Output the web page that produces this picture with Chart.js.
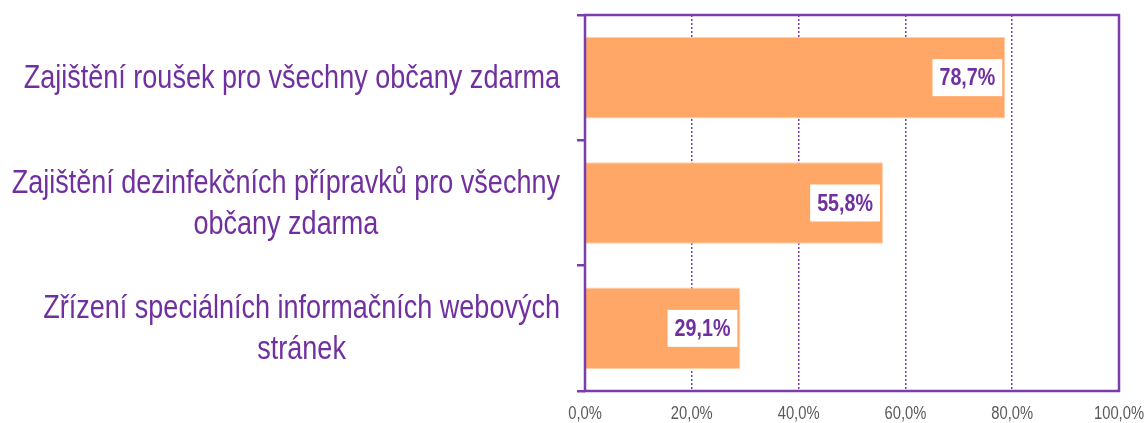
<!DOCTYPE html>
<html>
<head>
<meta charset="utf-8">
<script src="https://cdn.jsdelivr.net/npm/chart.js@4.4.1/dist/chart.umd.min.js"></script>
<style>
html, body { margin: 0; padding: 0; background: #fff; }
#wrap { width: 1148px; height: 423px; }
</style>
</head>
<body>
<div id="wrap"><canvas id="myChart"></canvas></div>
<script>
// categories (each one split into its display lines)
const categories = [
    ['Zajištění roušek pro všechny občany zdarma'],
    ['Zajištění dezinfekčních přípravků pro všechny', 'občany zdarma'],
    ['Zřízení speciálních informačních webových', 'stránek']
];
const values = [78.7, 55.8, 29.1];
const tickValues = [0, 20, 40, 60, 80, 100];
const tickLabels = ['0,0%', '20,0%', '40,0%', '60,0%', '80,0%', '100,0%'];

const purple = '#7030A0';
const lineColor = '#7B3DAD';
const family = '"Liberation Sans", Arial, sans-serif';
const squeeze = 0.82; // no narrow font installed, so squash the normal one

function fmt(v) {
    return v.toFixed(1).replace('.', ',') + '%';
}

function narrowText(ctx, txt, x, y, sx) {
    ctx.save();
    ctx.translate(x, y);
    ctx.scale(sx || squeeze, 1);
    ctx.fillText(txt, 0, 0);
    ctx.restore();
}

// purple frame round the plot area
const framePlugin = {
    id: 'frame',
    afterDatasetsDraw(chart) {
        const a = chart.chartArea;
        const ctx = chart.ctx;
        ctx.save();
        ctx.strokeStyle = lineColor;
        ctx.lineWidth = 2.5;
        ctx.strokeRect(a.left, a.top, a.right - a.left, a.bottom - a.top);
        ctx.restore();
    }
};

// white boxes with the values, at the end of each bar
const valueLabels = {
    id: 'valueLabels',
    afterDraw(chart) {
        const ctx = chart.ctx;
        const meta = chart.getDatasetMeta(0);
        ctx.save();
        ctx.font = 'bold 24px ' + family;
        ctx.textAlign = 'center';
        ctx.textBaseline = 'middle';
        meta.data.forEach(function(bar, i) {
            const txt = fmt(values[i]);
            const w = ctx.measureText(txt).width * squeeze + 14;
            const h = 37;
            const right = bar.x - 3;
            ctx.fillStyle = '#ffffff';
            ctx.fillRect(right - w, bar.y - h / 2, w, h);
            ctx.fillStyle = purple;
            narrowText(ctx, txt, right - w / 2, bar.y + 1);
        });
        ctx.restore();
    }
};

// x tick labels and category names
const axisText = {
    id: 'axisText',
    afterDraw(chart) {
        const ctx = chart.ctx;
        const xScale = chart.scales.x;
        const yScale = chart.scales.y;
        ctx.save();
        ctx.textAlign = 'center';
        ctx.textBaseline = 'middle';

        ctx.font = '18px ' + family;
        ctx.fillStyle = '#595959';
        tickValues.forEach(function(v, i) {
            narrowText(ctx, tickLabels[i], xScale.getPixelForValue(v), chart.chartArea.bottom + 23);
        });

        const rightEdge = chart.chartArea.left - 25;
        const lineH = 41;
        const sx = 0.795;
        ctx.font = '34px ' + family;
        ctx.textBaseline = 'alphabetic';
        ctx.fillStyle = purple;
        categories.forEach(function(lines, i) {
            const yc = yScale.getPixelForTick(i);
            let maxW = 0;
            lines.forEach(function(l) { maxW = Math.max(maxW, ctx.measureText(l).width * sx); });
            const cx = rightEdge - maxW / 2;
            const y0 = yc + 10.5 - (lines.length - 1) * lineH / 2;
            lines.forEach(function(l, j) {
                narrowText(ctx, l, cx, y0 + j * lineH, sx);
            });
        });
        ctx.restore();
    }
};

const ctx = document.getElementById('myChart').getContext('2d');
const myChart = new Chart(ctx, {
    type: 'bar',
    data: {
        labels: categories.map(c => c.join(' ')),
        datasets: [{
            data: values,
            backgroundColor: '#FFA766',
            borderColor: '#FFCFAA',
            borderWidth: 1,
            barPercentage: 0.65,
            categoryPercentage: 1
        }]
    },
    options: {
        indexAxis: 'y',
        responsive: true,
        maintainAspectRatio: false,
        animation: false,
        layout: { padding: { left: 0, top: 15, right: 29, bottom: 0 } },
        plugins: {
            legend: { display: false },
            tooltip: { enabled: false }
        },
        scales: {
            x: {
                min: 0,
                max: 100,
                afterBuildTicks: function(scale) {
                    scale.ticks = tickValues.map(v => ({ value: v }));
                },
                afterFit: function(scale) { scale.height = 32; },
                ticks: { display: false },
                grid: {
                    color: lineColor,
                    lineWidth: 1.5,
                    drawTicks: false
                },
                border: { display: false, dash: [2, 2] }
            },
            y: {
                afterFit: function(scale) { scale.width = 585; },
                ticks: { display: false },
                grid: {
                    drawOnChartArea: false,
                    drawTicks: true,
                    tickLength: 8,
                    color: lineColor,
                    lineWidth: 2.5,
                    offset: true
                },
                border: { display: false }
            }
        }
    },
    plugins: [framePlugin, valueLabels, axisText]
});
</script>
</body>
</html>
